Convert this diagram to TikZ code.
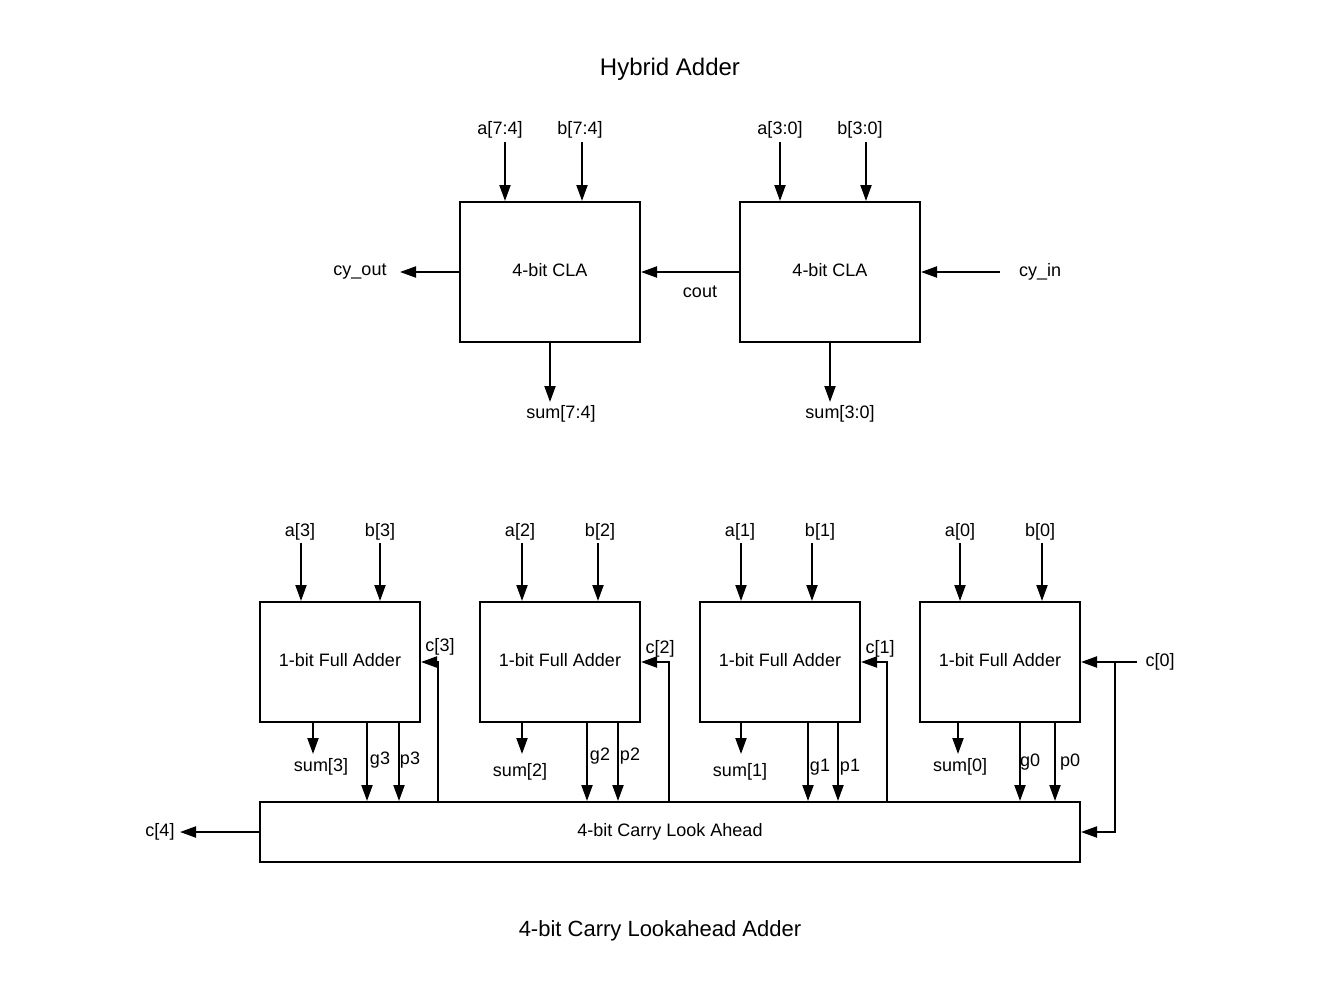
\documentclass[tikz,border=0pt]{standalone}
\usepackage{fontspec}
\setmainfont{Liberation Sans}
\usetikzlibrary{arrows.meta}
\begin{document}
\begin{tikzpicture}[x=1pt,y=-1pt,
 box/.style={draw, line width=2pt, inner sep=0pt, text height=13pt, text depth=5pt, font=\fontsize{18}{21}\selectfont},
 lbl/.style={inner sep=0pt, yshift=-2pt, font=\fontsize{18}{21}\selectfont},
 arr/.style={line width=2pt, -{Triangle[length=16pt,width=11pt]}},
 wire/.style={line width=2pt}]
\useasboundingbox (0,0) rectangle (1320,1002);
% ---------- Hybrid adder ----------
\node[lbl, font=\fontsize{24}{28}\selectfont] (t1) at (670,67) {Hybrid Adder};
\node[box, minimum width=180pt, minimum height=140pt] (claL) at (550,272) {4-bit CLA};
\node[box, minimum width=180pt, minimum height=140pt] (claR) at (830,272) {4-bit CLA};
\node[lbl] (la74) at (500,128) {a[7:4]};
\node[lbl] (lb74) at (580,128) {b[7:4]};
\node[lbl] (la30) at (780,128) {a[3:0]};
\node[lbl] (lb30) at (860,128) {b[3:0]};
\coordinate (a74s) at (505,142);
\coordinate (b74s) at (582,142);
\coordinate (a30s) at (780,142);
\coordinate (b30s) at (866,142);
\draw[arr] (a74s) -- (a74s |- claL.north);
\draw[arr] (b74s) -- (b74s |- claL.north);
\draw[arr] (a30s) -- (a30s |- claR.north);
\draw[arr] (b30s) -- (b30s |- claR.north);
\node[lbl] (lcyo) at (360,270) {cy\_out};
\coordinate (cyo) at (400,272);
\draw[arr] (claL.west) -- (cyo);
\draw[arr] (claR.west) -- (claL.east);
\node[lbl] (lcout) at (700,290) {cout};
\node[lbl] (lcyi) at (1040,270) {cy\_in};
\coordinate (cyi) at (1000,272);
\draw[arr] (cyi) -- (claR.east);
\coordinate (s74) at (550,402);
\coordinate (s30) at (830,402);
\draw[arr] (claL.south) -- (s74);
\draw[arr] (claR.south) -- (s30);
\node[lbl] (ls74) at (561,412) {sum[7:4]};
\node[lbl] (ls30) at (840,412) {sum[3:0]};
% ---------- 4-bit CLA ----------
\node[box, minimum width=160pt, minimum height=120pt] (fa3) at (340,662) {1-bit Full Adder};
\node[box, minimum width=160pt, minimum height=120pt] (fa2) at (560,662) {1-bit Full Adder};
\node[box, minimum width=160pt, minimum height=120pt] (fa1) at (780,662) {1-bit Full Adder};
\node[box, minimum width=160pt, minimum height=120pt] (fa0) at (1000,662) {1-bit Full Adder};
\node[box, minimum width=820pt, minimum height=60pt] (cla) at (670,832) {4-bit Carry Look Ahead};
% inputs
\node[lbl] (la3) at (300,530) {a[3]};
\node[lbl] (lb3) at (380,530) {b[3]};
\node[lbl] (la2) at (520,530) {a[2]};
\node[lbl] (lb2) at (600,530) {b[2]};
\node[lbl] (la1) at (740,530) {a[1]};
\node[lbl] (lb1) at (820,530) {b[1]};
\node[lbl] (la0) at (960,530) {a[0]};
\node[lbl] (lb0) at (1040,530) {b[0]};
\coordinate (a3s) at (301,543);
\coordinate (b3s) at (380,543);
\coordinate (a2s) at (522,543);
\coordinate (b2s) at (598,543);
\coordinate (a1s) at (741,543);
\coordinate (b1s) at (812,543);
\coordinate (a0s) at (960,543);
\coordinate (b0s) at (1042,543);
\draw[arr] (a3s) -- (a3s |- fa3.north);
\draw[arr] (b3s) -- (b3s |- fa3.north);
\draw[arr] (a2s) -- (a2s |- fa2.north);
\draw[arr] (b2s) -- (b2s |- fa2.north);
\draw[arr] (a1s) -- (a1s |- fa1.north);
\draw[arr] (b1s) -- (b1s |- fa1.north);
\draw[arr] (a0s) -- (a0s |- fa0.north);
\draw[arr] (b0s) -- (b0s |- fa0.north);
% sum outputs
\coordinate (s3) at (313,754);
\coordinate (s2) at (522,754);
\coordinate (s1) at (741,754);
\coordinate (s0) at (958,754);
\draw[arr] (s3 |- fa3.south) -- (s3);
\draw[arr] (s2 |- fa2.south) -- (s2);
\draw[arr] (s1 |- fa1.south) -- (s1);
\draw[arr] (s0 |- fa0.south) -- (s0);
\node[lbl] (ls3) at (321,765) {sum[3]};
\node[lbl] (ls2) at (520,770) {sum[2]};
\node[lbl] (ls1) at (740,770) {sum[1]};
\node[lbl] (ls0) at (960,765) {sum[0]};
% g / p
\coordinate (g3) at (367,722);
\coordinate (p3) at (399,722);
\coordinate (g2) at (587,722);
\coordinate (p2) at (618,722);
\coordinate (g1) at (808,722);
\coordinate (p1) at (838,722);
\coordinate (g0) at (1020,722);
\coordinate (p0) at (1055,722);
\foreach \q in {g3,p3,g2,p2,g1,p1,g0,p0} {\draw[arr] (\q) -- (\q |- cla.north);}
\node[lbl] (lg3) at (380,758) {g3};
\node[lbl] (lp3) at (410,758) {p3};
\node[lbl] (lg2) at (600,754) {g2};
\node[lbl] (lp2) at (630,754) {p2};
\node[lbl] (lg1) at (820,765) {g1};
\node[lbl] (lp1) at (850,765) {p1};
\node[lbl] (lg0) at (1030,760) {g0};
\node[lbl] (lp0) at (1070,760) {p0};
% carries
\coordinate (c3b) at (438,802);
\coordinate (c2b) at (669,802);
\coordinate (c1b) at (887,802);
\draw[arr] (c3b) |- (fa3.east);
\draw[arr] (c2b) |- (fa2.east);
\draw[arr] (c1b) |- (fa1.east);
\node[lbl] (lc3) at (440,645) {c[3]};
\node[lbl] (lc2) at (660,647) {c[2]};
\node[lbl] (lc1) at (880,647) {c[1]};
\node[lbl] (lc0) at (1160,660) {c[0]};
\coordinate (c0s) at (1137,662);
\coordinate (c0j) at (1115,662);
\draw[arr] (c0s) -- (fa0.east);
\draw[arr] (c0j) |- (cla.east);
\coordinate (c4e) at (180,832);
\draw[arr] (cla.west) -- (c4e);
\node[lbl] (lc4) at (160,830) {c[4]};
\node[lbl, font=\fontsize{22}{26}\selectfont] (t2) at (660,929) {4-bit Carry Lookahead Adder};
\end{tikzpicture}
\end{document}
